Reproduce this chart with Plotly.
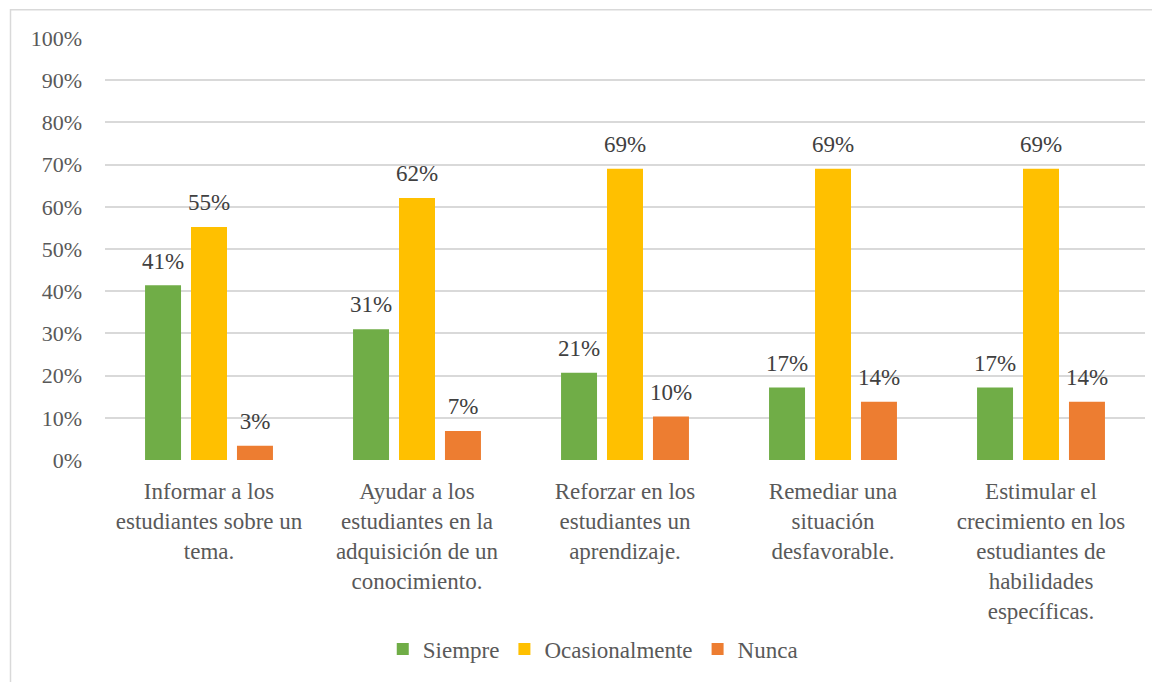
import plotly.graph_objects as go

categories = [
    "Informar a los<br>estudiantes sobre un<br>tema.",
    "Ayudar a los<br>estudiantes en la<br>adquisición de un<br>conocimiento.",
    "Reforzar en los<br>estudiantes un<br>aprendizaje.",
    "Remediar una<br>situación<br>desfavorable.",
    "Estimular el<br>crecimiento en los<br>estudiantes de<br>habilidades<br>específicas.",
]
siempre = [41.4, 31.0, 20.7, 17.2, 17.2]
ocasionalmente = [55.2, 62.1, 69.0, 69.0, 69.0]
nunca = [3.4, 6.9, 10.3, 13.8, 13.8]
series_names = ["Siempre", "Ocasionalmente", "Nunca"]
colors = ["#70AD47", "#FFC000", "#ED7D31"]
y_ticks = [0, 10, 20, 30, 40, 50, 60, 70, 80, 90, 100]
y_tick_labels = [f"{v}%" for v in y_ticks]

FONT = "Liberation Serif, Times New Roman, serif"
GAP = 0.337

fig = go.Figure()
for i, (name, vals, col) in enumerate(zip(series_names, [siempre, ocasionalmente, nunca], colors)):
    fig.add_trace(go.Bar(
        name=name, x=categories, y=vals, offsetgroup=str(i),
        marker=dict(color=col, line=dict(width=0)),
        hoverinfo="skip",
    ))
for i, (name, vals) in enumerate(zip(series_names, [siempre, ocasionalmente, nunca])):
    fig.add_trace(go.Scatter(
        x=categories, y=vals, offsetgroup=str(i), mode="markers+text",
        marker=dict(size=16, opacity=0),
        text=[f"{round(v)}%" for v in vals],
        textposition="top center",
        textfont=dict(family=FONT, size=23, color="#404040"),
        showlegend=False, cliponaxis=False, hoverinfo="skip",
    ))

fig.update_layout(
    width=1152, height=674,
    margin=dict(l=97, r=15, t=30, b=220),
    paper_bgcolor="white", plot_bgcolor="white",
    barmode="group", bargap=GAP, bargroupgap=0.217,
    scattermode="group", scattergap=GAP,
    font=dict(family=FONT, size=22, color="#595959"),
    showlegend=True,
    legend=dict(orientation="h", x=0.469, xanchor="center", y=-0.448, yanchor="middle",
                font=dict(family=FONT, size=23, color="#595959"),
                itemwidth=30, traceorder="normal"),
)
fig.update_yaxes(range=[0, 100], tickvals=y_ticks, ticktext=y_tick_labels,
                 showgrid=True, gridcolor="#D9D9D9", gridwidth=1.5,
                 zeroline=False, showline=False, ticklabelstandoff=22,
                 tickfont=dict(family=FONT, size=22, color="#595959"))
fig.update_xaxes(showgrid=False, showline=False, zeroline=False,
                 tickfont=dict(family=FONT, size=23, color="#595959"),
                 tickangle=0, ticklabelstandoff=15)
fig.add_shape(type="rect", xref="paper", yref="paper",
              x0=(10.5 - 105) / 1040, x1=1.2, y0=-0.6, y1=(462 - 9.5) / 424,
              line=dict(color="#D9D9D9", width=1.5), fillcolor="rgba(0,0,0,0)", layer="below")
fig.write_html("out.html")
